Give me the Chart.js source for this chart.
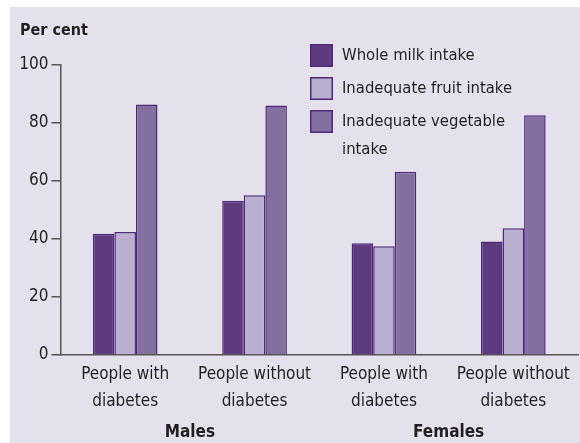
<!DOCTYPE html>
<html>
<head>
<meta charset="utf-8">
<script src="https://cdn.jsdelivr.net/npm/chart.js@4"></script>
<style>
  html, body { margin: 0; padding: 0; background: #fff; }
  #panel {
    position: absolute; left: 10px; top: 7px;
    width: 570px; height: 436px; background: #e4e0ec;
  }
  #panel canvas { display: block; }
</style>
</head>
<body>
<div id="panel"><canvas id="myChart" width="570" height="436"></canvas></div>
<script>
const categories = [['People with', 'diabetes'], ['People without', 'diabetes'], ['People with', 'diabetes'], ['People without', 'diabetes']];
const groups = ['Males', 'Females'];
const wholeMilk = [41.8, 53.2, 38.5, 39.1];
const fruitIntake = [42.4, 55.1, 37.5, 43.7];
const vegIntake = [86.4, 86.0, 63.2, 82.7];
const seriesNames = ['Whole milk intake', 'Inadequate fruit intake', ['Inadequate vegetable', 'intake']];
const yTicks = [0, 20, 40, 60, 80, 100];

const FONT = '"Liberation Sans Narrow", "DejaVu Sans Condensed", sans-serif';
const TEXT = '#231f20';
const BORDER = '#4e2a78';

// legend, "Per cent" and the Males / Females labels
const extras = {
  id: 'extras',
  afterDraw(chart) {
    const ctx = chart.ctx;
    ctx.save();
    ctx.fillStyle = TEXT;
    ctx.textBaseline = 'middle';
    ctx.font = 'bold 16px ' + FONT;
    ctx.textAlign = 'left';
    ctx.fillText('Per cent', 10, 24);

    // legend
    chart.data.datasets.forEach((ds, i) => {
      const y = 37 + i * 33;
      ctx.fillStyle = ds.backgroundColor;
      ctx.fillRect(300, y, 23, 23);
      ctx.strokeStyle = BORDER;
      ctx.lineWidth = 1.5;
      ctx.strokeRect(300.75, y + 0.75, 21.5, 21.5);
      ctx.fillStyle = TEXT;
      ctx.font = '16.5px ' + FONT;
      const lines = [].concat(seriesNames[i]);
      lines.forEach((t, j) => ctx.fillText(t, 332, y + 12 + j * 28));
    });

    // group labels
    const x = chart.scales.x;
    ctx.font = 'bold 17px ' + FONT;
    ctx.textAlign = 'center';
    groups.forEach((g, i) => {
      const cx = (x.getPixelForValue(i * 2) + x.getPixelForValue(i * 2 + 1)) / 2;
      ctx.fillText(g, cx, 426);
    });
    ctx.restore();
  }
};

const bar = (label, data, color) => ({
  label: label,
  data: data,
  backgroundColor: color,
  borderColor: BORDER,
  borderWidth: 1.5,
  categoryPercentage: 0.5,
  barPercentage: 1.0
});

new Chart(document.getElementById('myChart'), {
  type: 'bar',
  data: {
    labels: categories,
    datasets: [
      bar('Whole milk intake', wholeMilk, '#5e3b7f'),
      bar('Inadequate fruit intake', fruitIntake, '#b9afd0'),
      bar('Inadequate vegetable intake', vegIntake, '#8470a0')
    ]
  },
  options: {
    responsive: false,
    animation: false,
    layout: { padding: { left: 10, right: 2, top: 58, bottom: 0 } },
    plugins: {
      legend: { display: false },
      tooltip: { enabled: false }
    },
    scales: {
      y: {
        min: 0,
        max: 100,
        afterFit(scale) { scale.width = 40.5; },
        afterBuildTicks(scale) { scale.ticks = yTicks.map(v => ({ value: v })); },
        ticks: { color: TEXT, font: { family: FONT, size: 17 }, padding: 3 },
        grid: { drawOnChartArea: false, tickLength: 9, color: '#555', lineWidth: 1.5 },
        border: { color: '#555', width: 1.5 }
      },
      x: {
        afterFit(scale) { scale.height = 88; },
        ticks: { color: TEXT, font: { family: FONT, size: 17, lineHeight: '27px' }, padding: -2, maxRotation: 0 },
        grid: { display: false },
        border: { color: '#555', width: 1.5 }
      }
    }
  },
  plugins: [extras]
});
</script>
</body>
</html>
